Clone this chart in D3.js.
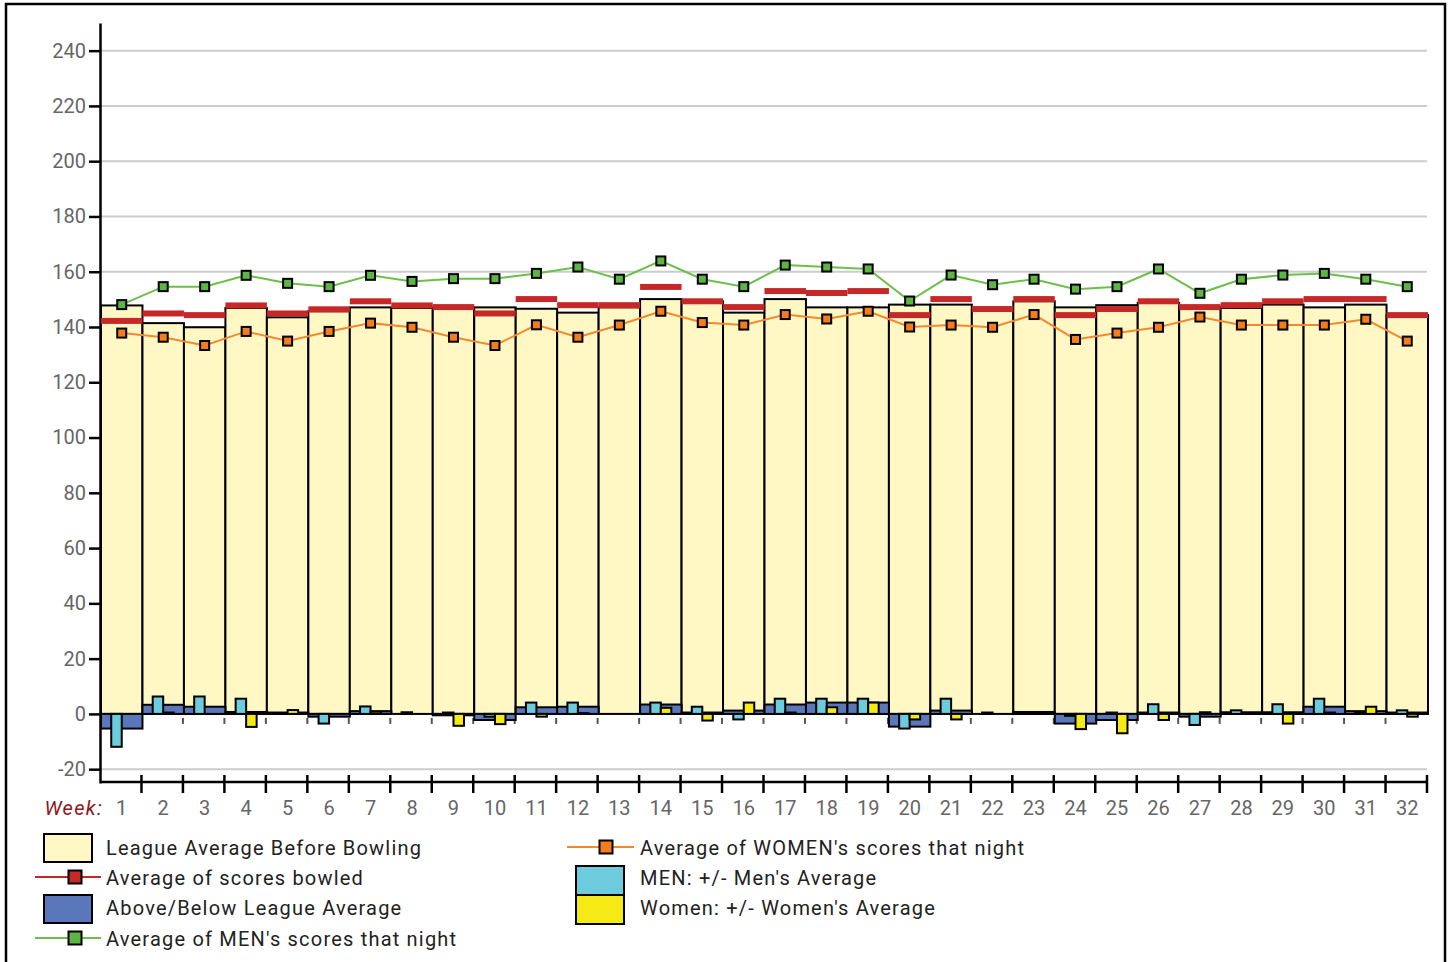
<!DOCTYPE html>
<html>
<head>
<meta charset="utf-8">
<script src="https://cdn.jsdelivr.net/npm/d3@7"></script>
<style>
  html, body { margin: 0; padding: 0; background: #fff; }
  svg { display: block; font-family: Roboto, "Noto Sans", sans-serif; }
</style>
</head>
<body>
<svg id="chart" width="1449" height="962"></svg>
<script>
// weeks 1..32
var weeks = d3.range(1, 33);

// league average before bowling (tall bars)
var leagueAvg = [147.8, 141.4, 139.9, 146.9, 143.5, 145.7, 147.1, 146.9, 147.0, 147.1,
                 146.6, 145.2, 147.1, 150.1, 149.3, 145.2, 150.1, 147.1, 147.1, 148.1,
                 148.1, 146.5, 149.3, 147.1, 147.9, 148.7, 147.2, 146.9, 148.1, 147.1,
                 148.1, 144.3];

// average of scores bowled (red dashes)
var avgBowled = [142.2, 144.9, 144.3, 147.8, 144.9, 146.4, 149.3, 147.8, 147.2, 144.9,
                 150.1, 147.9, 147.9, 154.5, 149.3, 147.2, 153.0, 152.3, 153.0, 144.3,
                 150.1, 146.5, 150.1, 144.3, 146.5, 149.3, 147.2, 147.9, 149.3, 150.1,
                 150.1, 144.3];

// average of MEN's scores that night
var menAvg = [148.1, 154.6, 154.6, 158.7, 155.8, 154.6, 158.7, 156.5, 157.5, 157.5,
              159.4, 161.7, 157.3, 163.9, 157.3, 154.6, 162.4, 161.7, 161.0, 149.4,
              158.8, 155.3, 157.3, 153.7, 154.6, 161.0, 152.2, 157.3, 158.8, 159.4,
              157.3, 154.6];

// average of WOMEN's scores that night
var womenAvg = [137.8, 136.3, 133.3, 138.4, 134.9, 138.4, 141.4, 139.9, 136.3, 133.3,
                140.8, 136.3, 140.7, 145.7, 141.6, 140.7, 144.5, 142.9, 145.7, 140.0,
                140.7, 139.9, 144.5, 135.5, 137.8, 139.9, 143.6, 140.7, 140.7, 140.7,
                142.8, 134.9];

// above / below league average
var aboveBelow = [-5.3, 3.3, 2.6, 0.7, 0.5, -1.0, 1.0, 0, -0.5, -2.2,
                  2.4, 2.6, 0, 3.4, 0.5, 1.2, 3.4, 4.1, 4.1, -4.6,
                  1.2, 0, 0.7, -3.5, -2.2, 0.5, -1.0, 0.6, 0.6, 2.6,
                  1.0, 0.5];

// MEN: +/- men's average
var menDiff = [-11.9, 6.3, 6.3, 5.5, 0, -3.5, 2.7, 0.6, 0.5, -1.0,
               4.1, 4.1, 0, 4.1, 2.6, -2.0, 5.5, 5.5, 5.5, -5.3,
               5.5, 0.5, 0, -0.7, 0.5, 3.5, -4.0, 1.3, 3.5, 5.5,
               0.6, 1.3];

// Women: +/- women's average
var womenDiff = [0, 0.5, 0, -4.7, 1.4, 0, 0.8, 0, -4.3, -3.7,
                 -1.0, 0.3, 0, 2.2, -2.4, 4.1, 0.5, 2.4, 4.1, -2.0,
                 -2.0, 0, 0, -5.5, -7.0, -2.2, 0.6, 0, -3.5, 0.5,
                 2.6, -1.0];

var yTicks = d3.range(-20, 241, 20);

var legendLabels = ["League Average Before Bowling", "Average of scores bowled",
                    "Above/Below League Average", "Average of MEN's scores that night",
                    "Average of WOMEN's scores that night", "MEN: +/- Men's Average",
                    "Women: +/- Women's Average"];

var col = {
  league: "#fff8c5",
  red: "#c62828",
  blue: "#5b77bc",
  green: "#6cbf4a",
  greenMark: "#5db544",
  orange: "#f5882c",
  orangeMark: "#f47d20",
  cyan: "#6ccbdc",
  yellow: "#f5e916"
};

var svg = d3.select("#chart");

// outer frame
svg.append("rect")
  .attr("x", 6).attr("y", 4)
  .attr("width", 1439).attr("height", 980)
  .attr("fill", "none")
  .attr("stroke", "#000")
  .attr("stroke-width", 2.5);

var x = d3.scaleBand().domain(weeks).range([101, 1428]).padding(0);
var y = d3.scaleLinear().domain([-25, 250]).range([783, 23]);
var bw = x.bandwidth();

// gridlines
svg.append("g").selectAll("line")
  .data(yTicks)
  .enter().append("line")
  .attr("x1", 101).attr("x2", 1427)
  .attr("y1", function(d) { return y(d); })
  .attr("y2", function(d) { return y(d); })
  .attr("stroke", "#cccccc")
  .attr("stroke-width", 2);

// y axis
var yAxis = svg.append("g")
  .attr("transform", "translate(100,0)")
  .call(d3.axisLeft(y).tickValues(yTicks).tickSize(11).tickSizeOuter(0).tickPadding(3)
    .tickFormat(function(d) { return String(d); }));
yAxis.select(".domain").attr("stroke", "#000").attr("stroke-width", 2.5);
yAxis.selectAll(".tick line").attr("stroke", "#000").attr("stroke-width", 2.5);
yAxis.selectAll(".tick text")
  .attr("fill", "#666")
  .style("font-size", "20px")
  .style("font-family", "Roboto, sans-serif");

// small ticks below zero line
svg.append("g").selectAll("line")
  .data(weeks.slice(0, 31))
  .enter().append("line")
  .attr("x1", function(d) { return x(d) + bw - 1; })
  .attr("x2", function(d) { return x(d) + bw - 1; })
  .attr("y1", y(0) + 4).attr("y2", y(0) + 10)
  .attr("stroke", "#555")
  .attr("stroke-width", 2);

// league average bars
svg.append("g").selectAll("rect")
  .data(weeks)
  .enter().append("rect")
  .attr("x", function(d) { return x(d); })
  .attr("y", function(d, i) { return y(leagueAvg[i]); })
  .attr("width", bw)
  .attr("height", function(d, i) { return y(0) - y(leagueAvg[i]); })
  .attr("fill", col.league)
  .attr("stroke", "#000")
  .attr("stroke-width", 2);

function diffBars(values, fill, xOff, w) {
  svg.append("g").selectAll("rect")
    .data(weeks.filter(function(d, i) { return values[i] !== 0; }))
    .enter().append("rect")
    .attr("x", function(d) { return x(d) + xOff; })
    .attr("y", function(d) { return y(Math.max(0, values[d - 1])); })
    .attr("width", w)
    .attr("height", function(d) { return Math.abs(y(values[d - 1]) - y(0)); })
    .attr("fill", fill)
    .attr("stroke", "#000")
    .attr("stroke-width", 2);
}

diffBars(aboveBelow, col.blue, 0, bw);
diffBars(menDiff, col.cyan, bw / 2 - 10.5, 10.5);
diffBars(womenDiff, col.yellow, bw / 2, 10.5);

// red dashes: average of scores bowled
svg.append("g").selectAll("rect")
  .data(weeks)
  .enter().append("rect")
  .attr("x", function(d) { return x(d); })
  .attr("y", function(d, i) { return y(avgBowled[i]) - 3; })
  .attr("width", bw)
  .attr("height", 6)
  .attr("fill", col.red);

function lineSeries(values, lineColor, markColor) {
  var line = d3.line()
    .x(function(d) { return x(d) + bw / 2; })
    .y(function(d) { return y(values[d - 1]); });
  svg.append("path")
    .datum(weeks)
    .attr("d", line)
    .attr("fill", "none")
    .attr("stroke", lineColor)
    .attr("stroke-width", 2);
  svg.append("g").selectAll("rect")
    .data(weeks)
    .enter().append("rect")
    .attr("x", function(d) { return x(d) + bw / 2 - 4.5; })
    .attr("y", function(d) { return y(values[d - 1]) - 4.5; })
    .attr("width", 9).attr("height", 9)
    .attr("fill", markColor)
    .attr("stroke", "#000")
    .attr("stroke-width", 2);
}

lineSeries(womenAvg, col.orange, col.orangeMark);
lineSeries(menAvg, col.green, col.greenMark);

// x axis
var xg = svg.append("g");
xg.append("line")
  .attr("x1", 101).attr("x2", 1427)
  .attr("y1", 782).attr("y2", 782)
  .attr("stroke", "#000").attr("stroke-width", 2.5);
xg.selectAll("line.tk")
  .data(weeks)
  .enter().append("line")
  .attr("class", "tk")
  .attr("x1", function(d) { return x(d) + bw - 1; })
  .attr("x2", function(d) { return x(d) + bw - 1; })
  .attr("y1", 775).attr("y2", 793)
  .attr("stroke", "#000").attr("stroke-width", 2.5);
xg.selectAll("text")
  .data(weeks)
  .enter().append("text")
  .attr("x", function(d) { return x(d) + bw / 2; })
  .attr("y", 815)
  .attr("text-anchor", "middle")
  .attr("fill", "#666")
  .style("font-size", "20px")
  .text(function(d) { return d; });
svg.append("text")
  .attr("x", 103).attr("y", 815)
  .attr("text-anchor", "end")
  .attr("fill", "#8b1a1a")
  .style("font-size", "20px")
  .style("letter-spacing", "1.3px")
  .style("font-style", "italic")
  .text("Week:");

// legend
var lg = svg.append("g")
  .style("font-size", "20px")
  .style("letter-spacing", "1.2px")
  .attr("fill", "#222");

function legendBox(x0, y0, h, fill) {
  lg.append("rect").attr("x", x0).attr("y", y0).attr("width", 48).attr("height", h)
    .attr("fill", fill).attr("stroke", "#000").attr("stroke-width", 2);
}
function legendLine(x0, x1, yy, mx, lineColor, markColor) {
  lg.append("line").attr("x1", x0).attr("x2", x1).attr("y1", yy).attr("y2", yy)
    .attr("stroke", lineColor).attr("stroke-width", 2);
  lg.append("rect").attr("x", mx - 6.5).attr("y", yy - 6.5).attr("width", 13).attr("height", 13)
    .attr("fill", markColor).attr("stroke", "#000").attr("stroke-width", 2);
}
function legendText(x0, yy, t) {
  lg.append("text").attr("x", x0).attr("y", yy).attr("dy", "0.35em").text(t);
}

legendBox(44, 834, 28, col.league);
legendText(106, 848, legendLabels[0]);
legendLine(35, 101, 877, 75, col.red, col.red);
legendText(106, 878, legendLabels[1]);
legendBox(44, 895, 28, col.blue);
legendText(106, 908, legendLabels[2]);
legendLine(35, 101, 938, 75, col.green, col.greenMark);
legendText(106, 939, legendLabels[3]);

legendLine(567, 634, 847, 606, col.orange, col.orangeMark);
legendText(640, 848, legendLabels[4]);
legendBox(576, 866, 29, col.cyan);
legendText(640, 878, legendLabels[5]);
legendBox(576, 895, 29, col.yellow);
legendText(640, 908, legendLabels[6]);
</script>
</body>
</html>
